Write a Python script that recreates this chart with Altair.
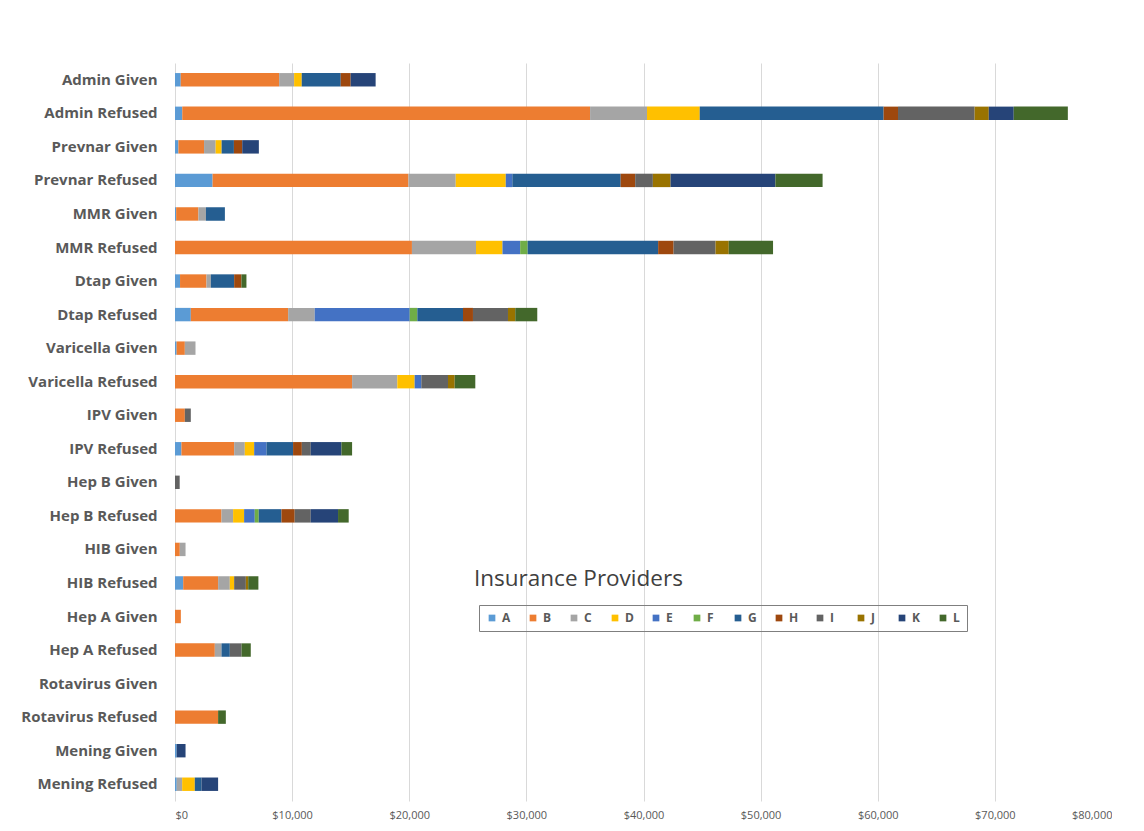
import altair as alt
import pandas as pd

categories = ["Admin Given", "Admin Refused", "Prevnar Given", "Prevnar Refused",
              "MMR Given", "MMR Refused", "Dtap Given", "Dtap Refused",
              "Varicella Given", "Varicella Refused", "IPV Given", "IPV Refused",
              "Hep B Given", "Hep B Refused", "HIB Given", "HIB Refused",
              "Hep A Given", "Hep A Refused", "Rotavirus Given", "Rotavirus Refused",
              "Mening Given", "Mening Refused"]

providers = ["A", "B", "C", "D", "E", "F", "G", "H", "I", "J", "K", "L"]
colors = ["#5B9BD5", "#ED7D31", "#A5A5A5", "#FFC000", "#4472C4", "#70AD47",
          "#255E91", "#9E480E", "#636363", "#997300", "#264478", "#43682B"]

A = [490, 620, 290, 3210, 100, 0, 430, 1350, 140, 0, 0, 550, 0, 0, 0, 700, 0, 0, 0, 0, 140, 150]
B = [8400, 34820, 2190, 16720, 1900, 20230, 2260, 8310, 700, 15120, 840, 4500, 0, 3970, 410, 2980, 500, 3400, 0, 3680, 0, 0]
C = [1280, 4860, 990, 4040, 640, 5470, 370, 2270, 910, 3860, 0, 910, 0, 990, 490, 1000, 0, 570, 0, 0, 0, 460]
D = [650, 4500, 510, 4270, 0, 2260, 0, 0, 0, 1480, 0, 800, 0, 940, 0, 370, 0, 0, 0, 0, 0, 1080]
E = [0, 0, 0, 560, 0, 1510, 0, 8110, 0, 570, 0, 1050, 0, 910, 0, 0, 0, 0, 0, 0, 0, 0]
F = [0, 0, 0, 0, 0, 640, 0, 650, 0, 0, 0, 0, 0, 340, 0, 0, 0, 0, 0, 0, 0, 0]
G = [3330, 15700, 1050, 9250, 1620, 11140, 1990, 3900, 0, 0, 0, 2270, 0, 1940, 0, 0, 0, 710, 0, 0, 0, 570]
H = [850, 1230, 710, 1240, 0, 1320, 620, 850, 0, 0, 0, 750, 0, 1130, 0, 0, 0, 0, 0, 0, 0, 0]
I = [0, 6540, 0, 1510, 0, 3580, 0, 2990, 0, 2280, 510, 760, 400, 1370, 0, 1000, 0, 1000, 0, 0, 0, 0]
J = [0, 1210, 0, 1510, 0, 1130, 0, 620, 0, 570, 0, 0, 0, 0, 0, 200, 0, 0, 0, 0, 0, 0]
K = [2130, 2130, 1420, 8950, 0, 0, 0, 0, 0, 0, 0, 2620, 0, 2330, 0, 0, 0, 0, 0, 0, 760, 1420]
L = [0, 4620, 0, 4030, 0, 3780, 430, 1880, 0, 1760, 0, 910, 0, 910, 0, 870, 0, 790, 0, 660, 0, 0]

series = dict(zip(providers, [A, B, C, D, E, F, G, H, I, J, K, L]))

rows = []
for p in providers:
    for cat, v in zip(categories, series[p]):
        if v > 0:
            rows.append({"Category": cat, "Provider": p, "Value": v,
                         "Order": providers.index(p)})
df = pd.DataFrame(rows)

FONT = "Open Sans"

bars = alt.Chart(df).mark_bar().encode(
    y=alt.Y("Category:N", sort=categories,
            scale=alt.Scale(domain=categories, paddingInner=0.6, paddingOuter=0.3),
            axis=alt.Axis(title=None, ticks=False, domain=False, labelFontSize=15,
                          labelFontWeight="bold", labelColor="#595959",
                          labelFont=FONT, labelPadding=18, grid=False)),
    x=alt.X("Value:Q", stack="zero",
            scale=alt.Scale(domain=[0, 80000], nice=False),
            axis=alt.Axis(title=None, format="$,.0f", values=list(range(0, 80001, 10000)),
                          ticks=False, domain=False, labelFontSize=11,
                          labelColor="#595959", labelFont=FONT, labelPadding=8,
                          gridColor="#D9D9D9", gridWidth=1)),
    color=alt.Color("Provider:N",
                    scale=alt.Scale(domain=providers, range=colors),
                    legend=alt.Legend(title=None, orient="none", legendX=304, legendY=542,
                                      direction="horizontal", columns=12,
                                      symbolType="square", symbolSize=45,
                                      symbolStrokeWidth=0, labelFontSize=12,
                                      labelFontWeight="bold", labelColor="#595959",
                                      labelFont=FONT, labelOffset=4,
                                      columnPadding=15, gridAlign="all",
                                      strokeColor="#7F7F7F", padding=7)),
    order=alt.Order("Order:Q", sort="ascending"),
)

title_df = pd.DataFrame({"t": ["Insurance Providers"]})
legend_title = alt.Chart(title_df).mark_text(
    align="left", baseline="alphabetic", fontSize=22.5, font=FONT, color="#404040"
).encode(x=alt.value(299), y=alt.value(523), text="t:N")

chart = alt.layer(bars, legend_title).properties(
    width=937, height=738,
    padding={"left": 12, "top": 55, "right": 0, "bottom": 5},
    background="white",
).configure_view(stroke=None)

chart.save("out.html", embed_options={"renderer": "svg", "actions": False})
